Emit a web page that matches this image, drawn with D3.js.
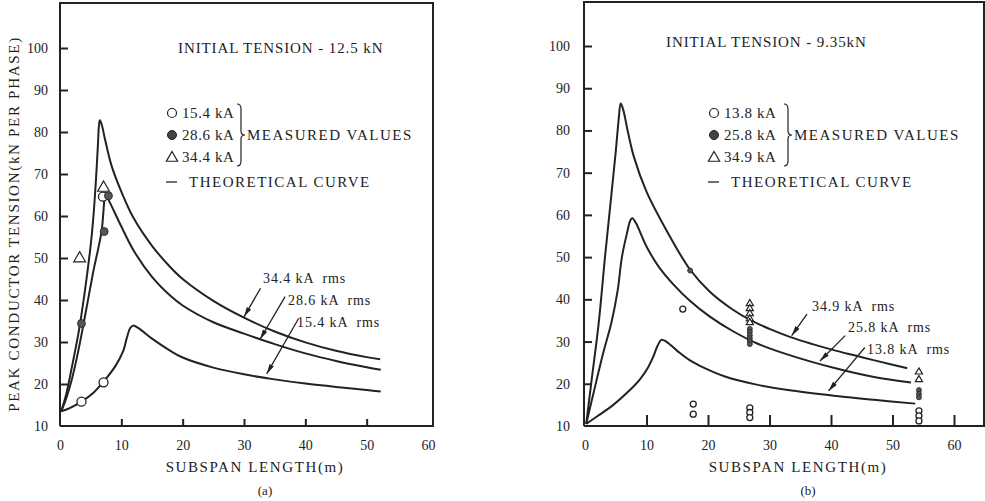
<!DOCTYPE html>
<html>
<head>
<meta charset="utf-8">
<script src="https://cdn.jsdelivr.net/npm/d3@7"></script>
<style>
  body { margin: 0; background: #fff; }
  text { font-family: "Liberation Serif", "DejaVu Serif", serif; fill: #222; }
</style>
</head>
<body>
<script>
// ---- data ----
var xTicks = [0, 10, 20, 30, 40, 50, 60];
var yTicks = [10, 20, 30, 40, 50, 60, 70, 80, 90, 100];

// panel (a): initial tension 12.5 kN
var curveA344 = [[0.2,13.5],[1,17.5],[2,24.5],[3,32],[3.5,36.5],[4,41.5],[4.5,47],[5,53],[5.4,59],[5.7,65],[6,72],[6.2,77.5],[6.35,81.5],[6.5,82.8],[6.8,81.8],[7.3,78.5],[8.4,72],[10,65.8],[12,59.5],[15,52.9],[18,47.8],[20,45],[25,39.8],[30,35.8],[35,32.5],[40,29.9],[45,27.9],[50,26.4],[52.2,25.9]];
var curveA286 = [[0.2,13.5],[1,16.5],[2,21.5],[3,28],[3.8,34],[4.5,39.5],[5.2,45],[5.6,48],[6.2,52],[6.8,56.5],[7.05,60.5],[7.25,64],[7.4,65],[7.6,64.7],[8.2,63],[10,57.5],[12,51.8],[15,45.5],[18,41],[20,38.7],[25,34.7],[30,32],[35,29.5],[40,27.3],[45,25.5],[50,24],[52.3,23.4]];
var curveA154 = [[0.2,13.5],[1.5,14.2],[3.5,15.8],[5.5,18],[7,20.4],[9,24.2],[10.3,27.8],[10.9,31],[11.4,33.2],[11.9,33.9],[12.8,33.3],[15,30.8],[18,27.9],[20,26.3],[25,23.9],[30,22.3],[35,21.1],[40,20.1],[45,19.3],[50,18.6],[52.3,18.2]];
var openA = [[3.5,15.8],[7.1,20.4],[7.0,64.6]];
var filledA = [[3.5,34.4],[7.2,56.3],[7.9,64.8]];
var triA = [[3.2,49.9],[7.1,66.7]];
var legendA = ["15.4 kA", "28.6 kA", "34.4 kA"];
var curveLabelsA = ["34.4 kA  rms", "28.6 kA  rms", "15.4 kA  rms"];

// panel (b): initial tension 9.35 kN
var curveB349 = [[0.2,10.5],[1,20],[2.2,34],[3.25,50],[4.2,63.5],[5,75],[5.5,83],[5.8,86.4],[6.2,85],[7,79.5],[8,73.5],[10,65.5],[13.3,56.2],[17.1,47],[20.3,41.8],[24,37.6],[27,35],[30,33],[33.3,31.1],[37,29.4],[40.9,27.8],[45,26.3],[50,24.5],[52.4,23.7]];
var curveB258 = [[0.2,10.5],[1.5,18.5],[3,27.5],[4.3,34.5],[5.3,42],[6,50],[6.8,55.5],[7.4,58.8],[7.7,59.2],[8.3,58],[10,52.5],[12,47.7],[14.4,43.5],[17.1,39.6],[20.3,35.9],[24,32.5],[27.9,29.6],[33,26.9],[40.9,23.6],[47,21.6],[53,20.3]];
var curveB138 = [[0.2,10.5],[2,12.3],[4.6,15],[7,18.1],[8.9,21],[10.3,24],[11.1,26.4],[11.8,29],[12.4,30.4],[13.2,30],[15,27.8],[17,25.6],[19.2,23.9],[23,21.6],[27.9,19.8],[33,18.5],[40.9,17.1],[47,16.2],[53.7,15.3]];
var openB = [[15.9,37.7],[17.6,15.2],[17.6,12.8],[26.8,14.3],[26.8,13.2],[26.8,12.0],[54.3,13.6],[54.3,12.4],[54.3,11.2]];
var filledB = [[17.1,46.8],[26.8,33.0],[26.8,32.3],[26.8,31.5],[26.8,30.8],[26.8,30.1],[26.8,29.4],[54.3,18.5],[54.3,17.6],[54.3,16.8]];
var triB = [[26.8,39.0],[26.8,37.8],[26.8,36.6],[26.8,35.4],[26.8,34.5],[54.3,22.8],[54.3,21.0]];
var legendB = ["13.8 kA", "25.8 kA", "34.9 kA"];
var curveLabelsB = ["34.9 kA  rms", "25.8 kA  rms", "13.8 kA  rms"];

var ink = "#222";

var svg = d3.select("body")
		.append("svg")
		.attr("width", 985)
		.attr("height", 501);

svg.append("defs").append("marker")
		.attr("id", "arrow")
		.attr("viewBox", "0 0 12 6")
		.attr("refX", 12)
		.attr("refY", 3)
		.attr("markerWidth", 12)
		.attr("markerHeight", 5)
		.attr("markerUnits", "userSpaceOnUse")
		.attr("orient", "auto")
	.append("path")
		.attr("d", "M0,0 L12,3 L0,6 z")
		.attr("fill", ink);

function drawPanel(p) {
	var x = d3.scaleLinear().domain([0, 60]).range([p.x0, p.x60]);
	var y = d3.scaleLinear().domain([10, 100]).range([p.y10, p.y100]);
	var g = svg.append("g");

	// frame
	g.append("path")
		.attr("d", "M" + p.left + "," + p.y10 + " V" + p.top + " H" + p.right + " V" + p.y10 + " H" + p.left)
		.attr("fill", "none")
		.attr("stroke", ink)
		.attr("stroke-width", 2);

	var xAxis = g.append("g")
		.attr("transform", "translate(0," + p.y10 + ")")
		.call(d3.axisBottom(x).tickValues(xTicks).tickSizeInner(-p.xTick).tickSizeOuter(0).tickPadding(14));
	xAxis.select(".domain").remove();
	xAxis.selectAll(".tick line")
		.attr("stroke", ink)
		.attr("stroke-width", 2)
		.attr("display", function(d) { return (d === 0 || (d === 60 && !p.tick60)) ? "none" : null; });
	xAxis.selectAll(".tick text")
		.attr("font-size", 14)
		.attr("fill", ink);

	var yAxis = g.append("g")
		.attr("transform", "translate(" + p.left + ",0)")
		.call(d3.axisLeft(y).tickValues(yTicks).tickSizeInner(-8).tickSizeOuter(0).tickPadding(p.yPad));
	yAxis.select(".domain").remove();
	yAxis.selectAll(".tick line")
		.attr("stroke", ink)
		.attr("stroke-width", 2)
		.attr("display", function(d) { return d === 10 ? "none" : null; });
	yAxis.selectAll(".tick text")
		.attr("font-size", 14)
		.attr("fill", ink);

	// theoretical curves
	var line = d3.line()
		.x(function(d) { return x(d[0]); })
		.y(function(d) { return y(d[1]); })
		.curve(d3.curveCatmullRom.alpha(0.5));

	g.selectAll("path.curve")
		.data(p.curves)
		.enter().append("path")
		.attr("class", "curve")
		.attr("d", line)
		.attr("fill", "none")
		.attr("stroke", ink)
		.attr("stroke-width", 2)
		.attr("stroke-linejoin", "round");

	// measured values
	g.selectAll("circle.open")
		.data(p.open)
		.enter().append("circle")
		.attr("class", "open")
		.attr("cx", function(d) { return x(d[0]); })
		.attr("cy", function(d) { return y(d[1]); })
		.attr("r", p.r)
		.attr("fill", "#fff")
		.attr("stroke", ink)
		.attr("stroke-width", 1.3);

	g.selectAll("circle.filled")
		.data(p.filled)
		.enter().append("circle")
		.attr("class", "filled")
		.attr("cx", function(d) { return x(d[0]); })
		.attr("cy", function(d) { return y(d[1]); })
		.attr("r", p.r - 0.5)
		.attr("fill", "#555")
		.attr("stroke", ink)
		.attr("stroke-width", 0.8);

	var tri = d3.symbol().type(d3.symbolTriangle).size(p.triSize);
	g.selectAll("path.tri")
		.data(p.tri)
		.enter().append("path")
		.attr("class", "tri")
		.attr("transform", function(d) { return "translate(" + x(d[0]) + "," + y(d[1]) + ")"; })
		.attr("d", tri)
		.attr("fill", "#fff")
		.attr("stroke", ink)
		.attr("stroke-width", 1.2);

	// title
	g.append("text")
		.attr("x", p.titleX)
		.attr("y", p.titleY)
		.attr("font-size", 15)
		.attr("letter-spacing", 0.9)
		.text(p.title);

	// legend
	var lx = p.legX, ly = p.legY, step = 22;
	g.append("circle").attr("cx", lx).attr("cy", ly).attr("r", 4.5)
		.attr("fill", "#fff").attr("stroke", ink).attr("stroke-width", 1.2);
	g.append("circle").attr("cx", lx).attr("cy", ly + step).attr("r", 4.5)
		.attr("fill", "#444").attr("stroke", ink).attr("stroke-width", 1);
	g.append("path").attr("transform", "translate(" + lx + "," + (ly + 2 * step + 1) + ")")
		.attr("d", d3.symbol().type(d3.symbolTriangle).size(55)())
		.attr("fill", "#fff").attr("stroke", ink).attr("stroke-width", 1.2);
	g.append("line")
		.attr("x1", lx - 6).attr("x2", lx + 5)
		.attr("y1", ly + 3 * step + 3).attr("y2", ly + 3 * step + 3)
		.attr("stroke", ink).attr("stroke-width", 1.3);

	g.selectAll("text.leg")
		.data(p.legend)
		.enter().append("text")
		.attr("class", "leg")
		.attr("x", lx + 10)
		.attr("y", function(d, i) { return ly + i * step + 5; })
		.attr("font-size", 15)
		.attr("letter-spacing", 0.6)
		.text(function(d) { return d; });

	g.append("text")
		.attr("x", lx + 17)
		.attr("y", ly + 3 * step + 8)
		.attr("font-size", 15)
		.attr("letter-spacing", 1.5)
		.text("THEORETICAL CURVE");

	var bx = p.braceX, b0 = ly - 9, b1 = ly + 2 * step + 9, bm = ly + step;
	g.append("path")
		.attr("d", "M" + bx + "," + b0 + " q4,0 4,5 V" + (bm - 4) + " q0,4 4,4 q-4,0 -4,4 V" + (b1 - 5) + " q0,5 -4,5")
		.attr("fill", "none")
		.attr("stroke", ink)
		.attr("stroke-width", 1.2);

	g.append("text")
		.attr("x", bx + 10)
		.attr("y", bm + 5)
		.attr("font-size", 15)
		.attr("letter-spacing", 1.5)
		.text("MEASURED VALUES");

	// curve labels with arrows
	g.selectAll("line.arr")
		.data(p.arrows)
		.enter().append("line")
		.attr("class", "arr")
		.attr("x1", function(d) { return x(d[0]); })
		.attr("y1", function(d) { return y(d[1]); })
		.attr("x2", function(d) { return x(d[2]); })
		.attr("y2", function(d) { return y(d[3]); })
		.attr("stroke", ink)
		.attr("stroke-width", 1.3)
		.attr("marker-end", "url(#arrow)");

	g.selectAll("text.cl")
		.data(p.curveLabels)
		.enter().append("text")
		.attr("class", "cl")
		.attr("x", function(d, i) { return p.labelPos[i][0]; })
		.attr("y", function(d, i) { return p.labelPos[i][1]; })
		.attr("font-size", 14)
		.attr("letter-spacing", 0.9)
		.attr("xml:space", "preserve")
		.style("white-space", "pre")
		.text(function(d) { return d; });

	// axis titles
	g.append("text")
		.attr("x", p.xTitleX)
		.attr("y", 472)
		.attr("text-anchor", "middle")
		.attr("font-size", 15)
		.attr("letter-spacing", 1.6)
		.text("SUBSPAN LENGTH(m)");

	g.append("text")
		.attr("x", p.xTitleX + 10)
		.attr("y", 495)
		.attr("text-anchor", "middle")
		.attr("font-size", 13)
		.text(p.tag);
}

drawPanel({
	left: 60, right: 433, top: 3,
	x0: 60, x60: 428, y10: 426, y100: 48,
	xTick: 7, tick60: false, yPad: 12,
	curves: [curveA344, curveA286, curveA154],
	open: openA, filled: filledA, tri: triA, r: 4.5, triSize: 60,
	title: "INITIAL TENSION - 12.5 kN", titleX: 178, titleY: 53,
	legend: legendA, legX: 172, legY: 113, braceX: 237,
	arrows: [[32.7,42.8,30.0,36.0],[36.7,40.8,32.6,30.6],[38.9,35.6,33.7,22.4]],
	curveLabels: curveLabelsA, labelPos: [[263,283],[288,305],[297,327]],
	xTitleX: 255, tag: "(a)"
});

drawPanel({
	left: 584, right: 984, top: 2,
	x0: 585, x60: 954, y10: 426, y100: 46,
	xTick: 11, tick60: true, yPad: 14,
	curves: [curveB349, curveB258, curveB138],
	open: openB, filled: filledB, tri: triB, r: 3, triSize: 22,
	title: "INITIAL TENSION - 9.35kN", titleX: 666, titleY: 47,
	legend: legendB, legX: 714, legY: 113, braceX: 784,
	arrows: [[36.1,36.5,33.6,31.4],[42.3,31.4,38.2,25.4],[45.5,28.6,39.6,18.3]],
	curveLabels: curveLabelsB, labelPos: [[812,311],[848,332],[867,354]],
	xTitleX: 798, tag: "(b)"
});

// y axis title of panel (a)
svg.append("text")
		.attr("transform", "translate(19,224) rotate(-90)")
		.attr("text-anchor", "middle")
		.attr("font-size", 15)
		.attr("letter-spacing", 1.7)
		.text("PEAK CONDUCTOR TENSION(kN PER PHASE)");
</script>
</body>
</html>
